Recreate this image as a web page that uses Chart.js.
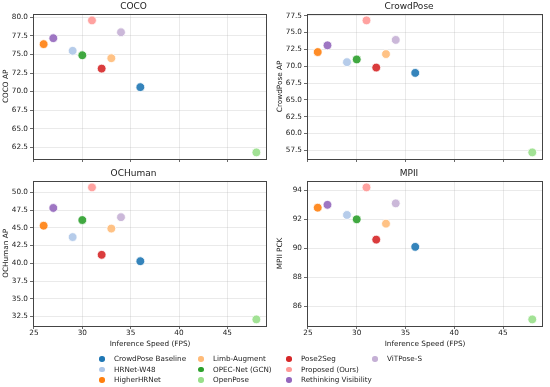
<!DOCTYPE html>
<html>
<head>
<meta charset="utf-8">
<script src="https://cdn.jsdelivr.net/npm/chart.js@4/dist/chart.umd.min.js"></script>
<style>
  html, body { margin: 0; padding: 0; background: #fff; }
  body { width: 550px; height: 387px; position: relative; overflow: hidden; font-family: "DejaVu Sans", sans-serif; }
  canvas { position: absolute; }
  .lg { position: absolute; font-size: 7.2px; color: #222; white-space: nowrap; line-height: 10px; }
  .lg i { display: inline-block; width: 5.5px; height: 5.5px; border-radius: 50%; margin-right: 9.5px; vertical-align: -0.5px; }
</style>
</head>
<body>
<canvas id="c0" width="275" height="170" style="left:0;top:0"></canvas>
<canvas id="c1" width="275" height="170" style="left:275px;top:0"></canvas>
<canvas id="c2" width="275" height="182" style="left:0;top:166px"></canvas>
<canvas id="c3" width="275" height="182" style="left:275px;top:166px"></canvas>
<div id="legend"></div>
<script>
// ---- data ----
const methods = ["CrowdPose Baseline", "HRNet-W48", "HigherHRNet", "Limb-Augment", "OPEC-Net (GCN)", "OpenPose", "Pose2Seg", "Proposed (Ours)", "Rethinking Visibility", "ViTPose-S"];
const fps = [36, 29, 26, 33, 30, 48, 32, 31, 27, 34];
const cocoAP = [70.6, 75.5, 76.4, 74.5, 74.9, 61.8, 73.1, 79.6, 77.2, 78.0];
const crowdposeAP = [69.0, 70.6, 72.1, 71.8, 71.0, 57.2, 69.8, 76.8, 73.1, 73.9];
const ochumanAP = [40.3, 43.7, 45.3, 44.9, 46.1, 32.1, 41.2, 50.7, 47.8, 46.5];
const mpiiPCK = [90.1, 92.3, 92.8, 91.7, 92.0, 85.1, 90.6, 94.2, 93.0, 93.1];
const xTicks = [25, 30, 35, 40, 45];
const cocoTicks = [62.5, 65.0, 67.5, 70.0, 72.5, 75.0, 77.5, 80.0];
const crowdposeTicks = [57.5, 60.0, 62.5, 65.0, 67.5, 70.0, 72.5, 75.0, 77.5];
const ochumanTicks = [32.5, 35.0, 37.5, 40.0, 42.5, 45.0, 47.5, 50.0];
const mpiiTicks = [86, 88, 90, 92, 94];

// ---- styles ----
const colors = ["#1f77b4", "#aec7e8", "#ff7f0e", "#ffbb78", "#2ca02c", "#98df8a", "#d62728", "#ff9896", "#9467bd", "#c5b0d5"];
const FONT = "'DejaVu Sans', sans-serif";

function pad(arr) { const lo = Math.min(...arr), hi = Math.max(...arr), m = (hi - lo) * 0.05; return [lo - m, hi + m]; }

const frame = {
  id: 'frame',
  afterDraw(chart) {
    const a = chart.chartArea, c = chart.ctx;
    c.save(); c.strokeStyle = '#444'; c.lineWidth = 1;
    c.strokeRect(Math.round(a.left) + 0.5, Math.round(a.top) + 0.5, Math.round(a.right - a.left) - 1, Math.round(a.bottom - a.top));
    c.restore();
  }
};

const panels = [
  { id: 'c0', title: 'COCO', ylabel: 'COCO AP', vals: cocoAP, ticks: cocoTicks, dec: 1, bottom: false, yw: 33, rp: 8, ytp: 2 },
  { id: 'c1', title: 'CrowdPose', ylabel: 'CrowdPose AP', vals: crowdposeAP, ticks: crowdposeTicks, dec: 1, bottom: false, yw: 32, rp: 7, ytp: 1 },
  { id: 'c2', title: 'OCHuman', ylabel: 'OCHuman AP', vals: ochumanAP, ticks: ochumanTicks, dec: 1, bottom: true, yw: 33, rp: 8, ytp: 2 },
  { id: 'c3', title: 'MPII', ylabel: 'MPII PCK', vals: mpiiPCK, ticks: mpiiTicks, dec: 0, bottom: true, yw: 32, rp: 7, ytp: 1 }
];

const [xMin, xMax] = pad(fps);

panels.forEach(p => {
  const [yMin, yMax] = pad(p.vals);
  const datasets = methods.map((m, i) => ({
    label: m,
    data: [{ x: fps[i], y: p.vals[i] }],
    backgroundColor: colors[i] + 'e6',
    borderColor: '#ffffff',
    borderWidth: 0.8,
    pointRadius: 4.4,
    pointHoverRadius: 4.4
  }));
  new Chart(document.getElementById(p.id), {
    type: 'scatter',
    data: { datasets },
    options: {
      responsive: false, animation: false, devicePixelRatio: 1,
      layout: { padding: { left: 0, right: p.rp, top: 0, bottom: 0 } },
      plugins: {
        legend: { display: false }, tooltip: { enabled: false },
        title: { display: true, text: p.title, color: '#222', font: { family: FONT, size: 9, weight: 'normal' }, padding: p.bottom ? { top: 2, bottom: 2 } : { top: 1, bottom: 2 } }
      },
      scales: {
        x: {
          type: 'linear', min: xMin, max: xMax,
          afterBuildTicks: s => { s.ticks = xTicks.map(v => ({ value: v })); },
          afterFit: s => { s.height = p.bottom ? 22 : 11; },
          ticks: { display: p.bottom, color: '#222', font: { family: FONT, size: 7.3 }, padding: 0, maxRotation: 0, callback: v => String(v) },
          grid: { color: 'rgba(160,160,160,0.28)', tickColor: '#444', tickLength: 3, lineWidth: 0.8 },
          border: { display: false },
          title: { display: p.bottom, text: 'Inference Speed (FPS)', color: '#222', font: { family: FONT, size: 7.3 }, padding: { top: 1, bottom: 0 } }
        },
        y: {
          type: 'linear', min: yMin, max: yMax,
          afterBuildTicks: s => { s.ticks = p.ticks.map(v => ({ value: v })); },
          afterFit: s => { s.width = p.yw; },
          ticks: { color: '#222', font: { family: FONT, size: 7.3 }, padding: 2, callback: v => Number(v).toFixed(p.dec) },
          grid: { color: 'rgba(160,160,160,0.28)', tickColor: '#444', tickLength: 3, lineWidth: 0.8 },
          border: { display: false },
          title: { display: true, text: p.ylabel, color: '#222', font: { family: FONT, size: 7.3 }, padding: { top: p.ytp, bottom: 0 } }
        }
      }
    },
    plugins: [frame]
  });
});

// ---- legend (HTML) ----
const colX = [99, 198, 286, 372];
const rowY = [354, 364.5, 375];
const lg = document.getElementById('legend');
methods.forEach((m, i) => {
  const col = Math.floor(i / 3), row = i % 3;
  const d = document.createElement('div');
  d.className = 'lg';
  d.style.left = colX[col] + 'px';
  d.style.top = rowY[row] + 'px';
  d.innerHTML = '<i style="background:' + colors[i] + '"></i>';
  d.appendChild(document.createTextNode(m));
  lg.appendChild(d);
});
</script>
</body>
</html>
